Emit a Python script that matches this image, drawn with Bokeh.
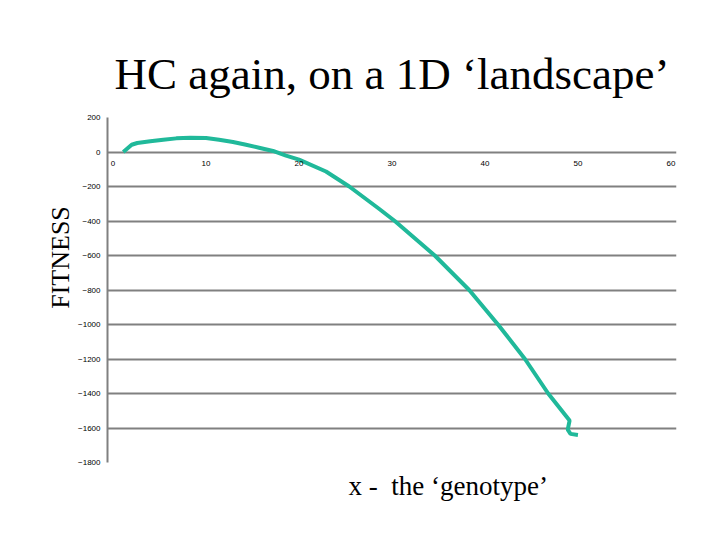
from bokeh.plotting import figure
from bokeh.models import Title, SingleIntervalTicker, Range1d
from bokeh.embed import file_html
from bokeh.resources import INLINE

# genotype x vs fitness
genotype = [1.1, 2.0, 2.6, 4.0, 5.4, 6.8, 8.3, 10.0, 11.4, 12.9, 14.3, 15.7,
            17.2, 18.6, 20.0, 22.9, 25.4, 28.6, 30.3, 34.6, 38.3, 41.4,
            44.3, 46.8, 49.1, 48.9, 49.2, 50.0]
fitness = [0, 42, 52, 62, 71, 79, 83, 81, 71, 58, 42, 25,
           6, -21, -44, -113, -200, -329, -400, -600, -800, -1000,
           -1200, -1400, -1557, -1610, -1634, -1640]

title_text = "HC again, on a 1D \u2018landscape\u2019"
# em spaces in front push the word up the axis, as on the slide
y_label = "\u2003\u2003\u2002FITNESS"
x_label = "x -\u00a0 the \u2018genotype\u2019"

GRID = "#808080"
SERIF = "Liberation Serif"

# a little slack on x so the "0" and "60" labels on the zero line are not cut
p = figure(
    width=704,
    height=524,
    title=title_text,
    x_range=Range1d(-0.6, 60.6),
    y_range=Range1d(-1800, 200),
    output_backend="svg",
    toolbar_location=None,
    min_border_left=107,
    min_border_right=28,
    min_border_top=117,
    min_border_bottom=62,
)
p.outline_line_color = None
p.background_fill_color = "white"

p.title.text_font = SERIF
p.title.text_font_size = "45px"
p.title.text_font_style = "normal"
p.title.text_color = "black"
p.title.align = "center"
p.title.offset = -10
p.title.standoff = 38

p.line(genotype, fitness, line_width=4, color="#20B99A")

# x axis sits on the zero line
p.xaxis.ticker = SingleIntervalTicker(interval=10)
p.xaxis.fixed_location = 0
p.xaxis.axis_line_color = None
p.xaxis.major_tick_line_color = None
p.xaxis.minor_tick_line_color = None
p.xaxis.major_label_standoff = 3
p.xaxis.major_label_text_font = "Liberation Sans"
p.xaxis.major_label_text_font_size = "8px"
p.xaxis.major_label_text_color = "black"
p.xgrid.visible = False

p.yaxis.ticker = SingleIntervalTicker(interval=200)
p.yaxis.axis_line_color = GRID
p.yaxis.axis_line_width = 2
p.yaxis.major_tick_out = 0
p.yaxis.major_tick_in = 0
p.yaxis.minor_tick_line_color = None
p.yaxis.major_label_standoff = 3
p.yaxis.major_label_text_font = "Liberation Sans"
p.yaxis.major_label_text_font_size = "8px"
p.yaxis.major_label_text_color = "black"
p.yaxis.axis_label = y_label
p.yaxis.axis_label_text_font = SERIF
p.yaxis.axis_label_text_font_size = "26px"
p.yaxis.axis_label_text_font_style = "normal"
p.yaxis.axis_label_text_color = "black"
p.yaxis.axis_label_standoff = 0

p.ygrid.grid_line_color = GRID
p.ygrid.grid_line_width = 2
p.ygrid.ticker = p.yaxis.ticker

# x axis title under the plot, left of centre as in the slide
p.add_layout(Title(text=x_label, align="left", offset=241, standoff=12,
                   text_font=SERIF, text_font_size="27px",
                   text_font_style="normal", text_color="black"), "below")

open("out.html", "w").write(file_html(p, INLINE))
